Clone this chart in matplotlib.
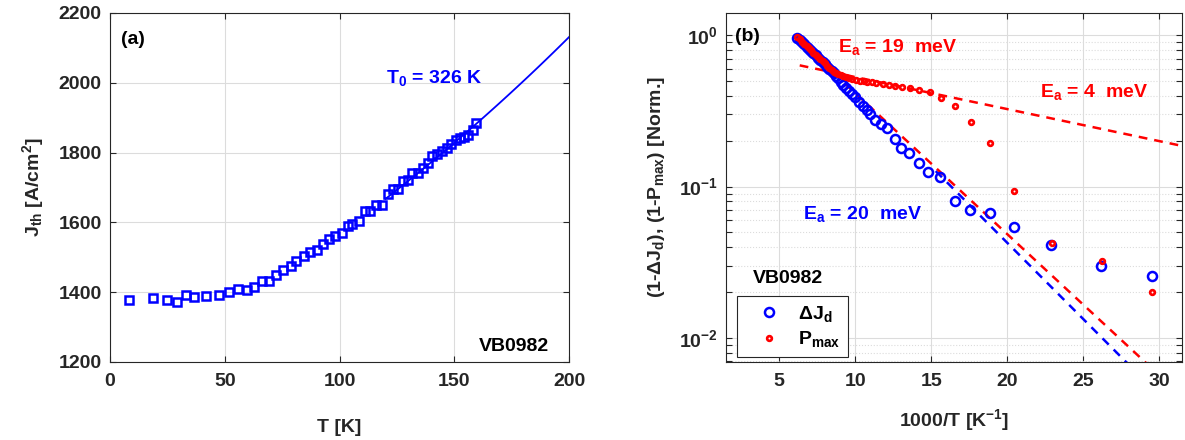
import numpy as np
import matplotlib
matplotlib.use("Agg")
import matplotlib.pyplot as plt
from matplotlib.ticker import NullLocator, LogLocator

# fonts: bold Arial-like, MATLAB look
plt.rcParams['font.family'] = ['Liberation Sans', 'DejaVu Sans']
plt.rcParams['font.weight'] = 'bold'
plt.rcParams['axes.labelweight'] = 'bold'
plt.rcParams['font.size'] = 14
plt.rcParams['mathtext.fontset'] = 'custom'
plt.rcParams['mathtext.rm'] = 'Liberation Sans:bold'
plt.rcParams['mathtext.it'] = 'Liberation Sans:bold'
plt.rcParams['mathtext.bf'] = 'Liberation Sans:bold'
plt.rcParams['mathtext.sf'] = 'Liberation Sans:bold'
plt.rcParams['mathtext.default'] = 'rm'

# ---- data (a): threshold current density vs temperature
temp_a = [8.3, 18.8, 24.8, 29.1, 33.1, 36.8, 41.9, 47.3, 51.9, 55.7, 59.6, 62.7,
          66.2, 69.4, 72.4, 75.5, 78.9, 81.0, 84.4, 87.2, 90.2, 92.7, 95.5, 98.0,
          101.0, 103.5, 105.5, 108.5, 111.0, 113.1, 116.0, 118.5, 121.0, 123.5,
          125.5, 127.6, 129.8, 131.8, 134.3, 136.4, 138.4, 140.4, 142.6, 144.8,
          146.8, 148.8, 150.6, 152.6, 154.2, 156.2, 158.1, 159.6]
jth_a = [1379, 1383, 1379, 1372, 1391, 1385, 1388, 1393, 1402, 1410, 1407, 1415,
         1433, 1433, 1450, 1463, 1474, 1488, 1505, 1514, 1520, 1538, 1552, 1562,
         1570, 1589, 1596, 1603, 1632, 1634, 1651, 1651, 1680, 1696, 1696, 1718,
         1722, 1742, 1742, 1756, 1770, 1789, 1797, 1804, 1813, 1826, 1835, 1842,
         1845, 1851, 1864, 1885]
t0_fit = 326.0      # K
j0_fit = 1153.8     # A/cm^2
fit_t_range = [120, 200]

# ---- data (b): normalised quantities vs 1000/T
inv_t_dj = [6.2, 6.35, 6.5, 6.65, 6.8, 6.95, 7.1, 7.25, 7.4, 7.55, 7.7, 7.85, 8.0,
            8.15, 8.3, 8.45, 8.6, 8.75, 8.9, 9.05, 9.2, 9.4, 9.6, 9.8, 10.0, 10.25,
            10.5, 10.75, 11.0, 11.3, 11.7, 12.1, 12.6, 13.0, 13.55, 14.2, 14.8,
            15.6, 16.55, 17.55, 18.9, 20.45, 22.9, 26.2, 29.55]
dj = [0.96, 0.93, 0.90, 0.87, 0.84, 0.81, 0.79, 0.76, 0.74, 0.71, 0.69, 0.665,
      0.645, 0.62, 0.60, 0.58, 0.56, 0.54, 0.52, 0.49, 0.47, 0.45, 0.43, 0.41,
      0.39, 0.365, 0.34, 0.32, 0.30, 0.275, 0.26, 0.245, 0.205, 0.179, 0.166,
      0.144, 0.125, 0.115, 0.080, 0.070, 0.067, 0.054, 0.041, 0.030, 0.0255]
inv_t_p = [6.2, 6.35, 6.5, 6.65, 6.8, 6.95, 7.1, 7.25, 7.4, 7.55, 7.7, 7.85, 8.0,
           8.15, 8.3, 8.45, 8.6, 8.75, 8.9, 9.05, 9.2, 9.4, 9.6, 9.8, 10.05, 10.3,
           10.55, 10.8, 11.1, 11.4, 11.8, 12.2, 12.6, 13.1, 13.6, 14.2, 14.9,
           15.65, 16.55, 17.6, 18.86, 20.43, 22.93, 26.21, 29.55]
pmax = [0.97, 0.94, 0.91, 0.88, 0.85, 0.82, 0.80, 0.77, 0.745, 0.72, 0.70, 0.675,
        0.655, 0.63, 0.61, 0.59, 0.575, 0.565, 0.555, 0.545, 0.537, 0.53, 0.522,
        0.515, 0.507, 0.50, 0.497, 0.493, 0.488, 0.482, 0.476, 0.47, 0.464, 0.458,
        0.45, 0.436, 0.425, 0.386, 0.34, 0.266, 0.194, 0.094, 0.0423, 0.0324, 0.020]

# Arrhenius fits: (activation energy in meV used for slope, log10 prefactor, x range)
kb = 0.08617  # meV/K
fit_dj = (20.0, 0.645, [15.3, 31.5])
fit_p_hi = (18.5, 0.551, [9.3, 31.5])
fit_p_lo = (4.2, -0.064, [6.35, 31.5])

BLUE = (0, 0, 1)
RED = (1, 0, 0)
EDGE = '#262626'
GRID = '#dcdcdc'

fig = plt.figure(figsize=(11.85, 4.4), dpi=100)
ax1 = fig.add_axes([110 / 1185, 78 / 440, 459 / 1185, 349 / 440])
ax2 = fig.add_axes([726 / 1185, 78 / 440, 456 / 1185, 349 / 440])

for ax in (ax1, ax2):
    ax.set_axisbelow(True)
    for s in ax.spines.values():
        s.set_color(EDGE)
        s.set_linewidth(0.8)
    ax.tick_params(which='both', direction='in', top=True, right=True,
                   length=4, width=0.8, color=EDGE, labelcolor=EDGE,
                   labelsize=14)
    ax.tick_params(axis='x', pad=8)
    ax.tick_params(axis='y', pad=6)

# ---- panel (a)
tt = np.linspace(fit_t_range[0], fit_t_range[1], 100)
ax1.plot(tt, j0_fit * np.exp(tt / t0_fit), '-', color=BLUE, lw=1.3)
ax1.plot(temp_a, jth_a, 's', mfc='none', mec=BLUE, ms=6, mew=1.8)
ax1.set_xlim(0, 200)
ax1.set_ylim(1200, 2200)
ax1.set_xticks([0, 50, 100, 150, 200])
ax1.set_yticks([1200, 1400, 1600, 1800, 2000, 2200])
ax1.grid(True, color=GRID, lw=0.8)
ax1.set_xlabel('T [K]', labelpad=21, color=EDGE)
ax1.set_ylabel('J$_{th}$ [A/cm$^2$]', labelpad=9, color=EDGE)
ax1.text(0.023, 0.9255, '(a)', transform=ax1.transAxes, ha='left', va='center',
         color='k', fontsize=14)
ax1.text(0.601, 0.80, '$T_0$ = 326 K', transform=ax1.transAxes, ha='left',
         va='baseline', color=BLUE, fontsize=14)
ax1.text(0.804, 0.032, 'VB0982', transform=ax1.transAxes, ha='left',
         va='baseline', color='k', fontsize=14)

# ---- panel (b)
def arrhenius(x, ea, loga):
    return 10 ** (loga - ea / kb / 1000 / np.log(10) * x)

for (ea, loga, xr), col in ((fit_dj, BLUE), (fit_p_hi, RED), (fit_p_lo, RED)):
    xx = np.linspace(xr[0], xr[1], 200)
    ax2.plot(xx, arrhenius(xx, ea, loga), '--', color=col, lw=1.8,
             dashes=(3.5, 2.8))

h1, = ax2.plot(inv_t_dj, dj, 'o', mfc='none', mec=BLUE, ms=6.5, mew=1.8,
               label=r'$\Delta J_d$')
h2, = ax2.plot(inv_t_p, pmax, 'o', mfc='none', mec=RED, ms=3.4, mew=1.9,
               label='$P_{max}$')
ax2.set_yscale('log')
ax2.set_xlim(1.5, 31.5)
ax2.set_ylim(0.00693, 1.405)
ax2.set_xticks([5, 10, 15, 20, 25, 30])
ax2.xaxis.set_minor_locator(NullLocator())
ax2.yaxis.set_minor_locator(LogLocator(subs=np.arange(2, 10)))
ax2.grid(True, which='major', color=GRID, lw=0.8)
ax2.yaxis.grid(True, which='minor', color=GRID, lw=0.8, ls=':')
ax2.set_xlabel('1000/T [K$^{-1}$]', labelpad=12, color=EDGE)
ax2.set_ylabel(r'(1-$\Delta J_d$), (1-$P_{max}$) [Norm.]', labelpad=8,
               color=EDGE)

ax2.text(0.020, 0.934, '(b)', transform=ax2.transAxes, ha='left', va='center',
         color='k', fontsize=14)
ax2.text(0.2456, 0.888, '$E_a$ = 19  meV', transform=ax2.transAxes, ha='left',
         va='baseline', color=RED, fontsize=14)
ax2.text(0.6886, 0.759, '$E_a$ = 4  meV', transform=ax2.transAxes, ha='left',
         va='baseline', color=RED, fontsize=14)
ax2.text(0.169, 0.410, '$E_a$ = 20  meV', transform=ax2.transAxes, ha='left',
         va='baseline', color=BLUE, fontsize=14)
ax2.text(0.059, 0.226, 'VB0982', transform=ax2.transAxes, ha='left',
         va='baseline', color='k', fontsize=14)

leg = ax2.legend(handles=[h1, h2], loc='lower left',
                 bbox_to_anchor=(0.024, 0.014), borderaxespad=0,
                 fontsize=14, handlelength=2.5, handletextpad=0.25,
                 borderpad=0.4, labelspacing=0.3, fancybox=False,
                 framealpha=1, edgecolor=EDGE)
leg.get_frame().set_linewidth(0.8)

fig.savefig('out.png', dpi=100)
